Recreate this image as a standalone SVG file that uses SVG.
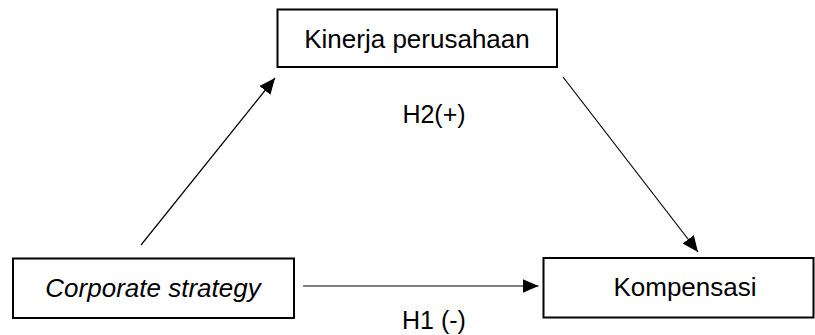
<svg xmlns="http://www.w3.org/2000/svg" width="815" height="335" viewBox="0 0 815 335">
<style>
.box{fill:#fff;stroke:#000;stroke-width:2}
.t{font-family:"Liberation Sans",Arial,sans-serif;font-size:26px;fill:#000;text-anchor:middle}
.lbl{font-family:"Liberation Sans",Arial,sans-serif;font-size:25px;fill:#000;text-anchor:middle}
.c{stroke:#000;stroke-width:1.2;fill:none;marker-end:url(#ah)}
</style>
<defs>
<marker id="ah" markerUnits="userSpaceOnUse" markerWidth="17" markerHeight="14" refX="16" refY="7" orient="auto">
<path d="M0,0 L16,7 L0,14 Z" fill="#000"/>
</marker>
</defs>
<rect width="815" height="335" fill="#fff"/>
<g id="kinerja">
<rect class="box" x="277.5" y="9.5" width="279.5" height="57.5"/>
<text class="t" x="417" y="48">Kinerja perusahaan</text>
</g>
<g id="corporate">
<rect class="box" x="13" y="258.5" width="281" height="59.5"/>
<text class="t" x="153" y="297" font-style="italic">Corporate strategy</text>
</g>
<g id="kompensasi">
<rect class="box" x="543.5" y="258" width="270" height="59.5"/>
<text class="t" x="685" y="296">Kompensasi</text>
</g>
<g id="connectors">
<line class="c" x1="141" y1="245" x2="275" y2="78"/>
<line class="c" x1="563" y1="77" x2="698" y2="252"/>
<line class="c" x1="303" y1="286" x2="538.5" y2="286"/>
</g>
<g id="labels">
<text class="lbl" x="434" y="123">H2(+)</text>
<text class="lbl" x="434" y="329">H1 (-)</text>
</g>
</svg>
